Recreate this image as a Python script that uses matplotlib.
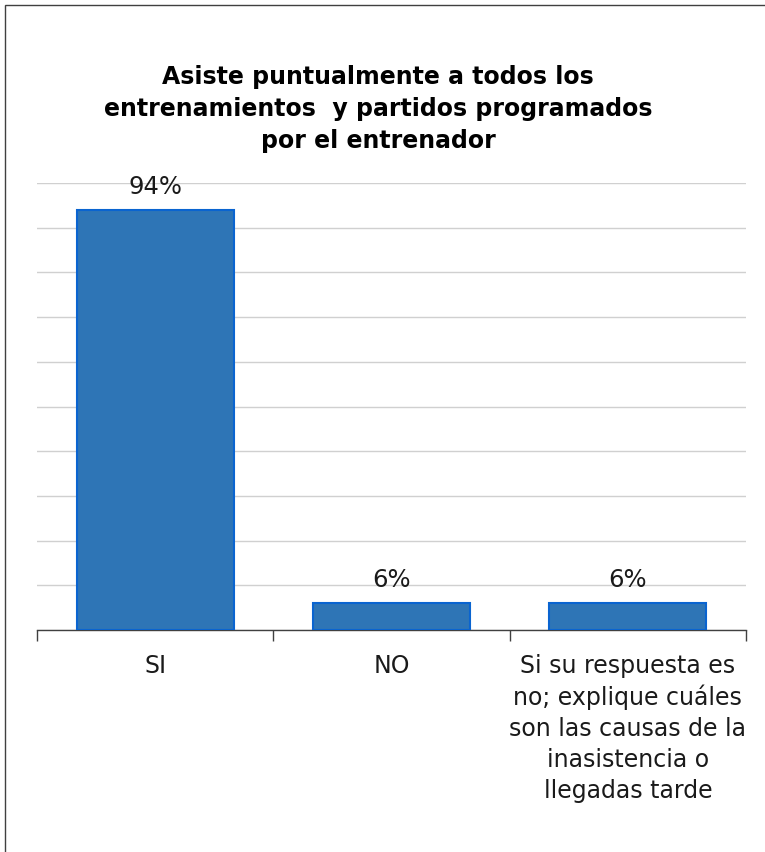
import matplotlib
matplotlib.use('Agg')
import matplotlib.pyplot as plt
from matplotlib.patches import Rectangle

# Survey answers and their share of responses (%)
categories = ['SI', 'NO',
              'Si su respuesta es\nno; explique cuáles\nson las causas de la\ninasistencia o\nllegadas tarde']
values = [94, 6, 6]
value_labels = ['94%', '6%', '6%']
title = ('Asiste puntualmente a todos los\n'
         'entrenamientos  y partidos programados\n'
         'por el entrenador')

plt.rcParams['font.family'] = ['DejaVu Sans']

fig = plt.figure(figsize=(7.65, 8.52), dpi=100)
fig.patch.set_facecolor('white')

# outer chart frame (left/top edges visible)
fig.patches.append(Rectangle((5 / 765, -0.05), 1.2, 1 - 5 / 852 + 0.05,
                             transform=fig.transFigure, fill=False,
                             edgecolor='#404040', linewidth=1.0))

ax = fig.add_axes([37 / 765, 1 - 630 / 852, 709 / 765, 447 / 852])

x = range(len(categories))
bars = ax.bar(x, values, width=0.665, color='#2E75B6',
              edgecolor='#0A64D0', linewidth=1.5, zorder=3)

for bar, lbl in zip(bars, value_labels):
    ax.text(bar.get_x() + bar.get_width() / 2, bar.get_height() + 3.6, lbl,
            ha='center', va='baseline', fontsize=17.5, color='#1a1a1a')

ax.set_xlim(-0.5, len(categories) - 0.5)
ax.set_ylim(0, 100)
ax.set_yticks(range(0, 101, 10))
ax.set_yticklabels([])
ax.tick_params(axis='y', length=0)
ax.grid(True, axis='y', color='#d0d0d0', linewidth=1.0, zorder=0)

ax.set_xticks([i - 0.5 for i in range(len(categories) + 1)], minor=False)
ax.set_xticklabels([])
ax.tick_params(axis='x', which='major', direction='out', length=8,
               color='#404040', width=1)
ax.set_xticks(list(x), minor=True)
ax.set_xticklabels(categories, minor=True, fontsize=17, color='#1a1a1a',
                   va='top', linespacing=1.36)
ax.tick_params(axis='x', which='minor', length=0, pad=17)

for side in ['left', 'right', 'top']:
    ax.spines[side].set_visible(False)
ax.spines['bottom'].set_color('#404040')
ax.spines['bottom'].set_linewidth(1.0)

fig.text(378 / 765, 1 - 65 / 852, title, ha='center', va='top',
         fontsize=17, fontweight='bold', linespacing=1.43)

fig.savefig('out.png', dpi=100)
